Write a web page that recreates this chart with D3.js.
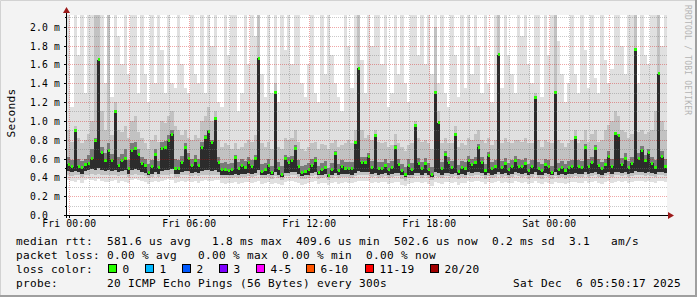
<!DOCTYPE html>
<html>
<head>
<meta charset="utf-8">
<style>
  html, body { margin: 0; padding: 0; background: #f3f3f3; }
  svg { display: block; }
  text { font-family: "DejaVu Sans Mono", monospace; fill: #000; }
  .legend { font-size: 11.1px; letter-spacing: 0.32px; white-space: pre; }
  .axis-text { font-size: 9.72px; letter-spacing: 0.15px; }
</style>
<script src="https://cdn.jsdelivr.net/npm/d3@7/dist/d3.min.js"></script>
</head>
<body>
<svg width="697" height="297"></svg>
<script>
const svg = d3.select('svg');
const width = +svg.attr('width');
const height = +svg.attr('height');

// one column every 10 minutes, first one starts Thu 23:55 (UTC)
const startTime = Date.UTC(2025, 11, 4, 23, 55);
const stepMinutes = 10;

// all values in microseconds
const medianUs = [
  540,510,900,520,500,540,550,600,790,1650,
  660,580,690,580,1100,530,575,600,490,690,
  710,640,550,525,450,510,640,500,710,720,
  790,860,490,490,560,720,600,525,575,525,
  720,820,890,770,1030,560,480,480,470,480,
  610,490,525,505,560,520,600,1665,460,480,
  530,455,1300,490,430,600,560,580,710,520,
  450,460,480,530,575,455,480,500,420,480,
  650,470,520,490,490,490,770,1560,560,560,
  620,500,840,490,490,530,480,500,720,540,
  470,430,525,480,950,550,490,550,480,430,
  1300,980,490,640,560,500,850,460,500,490,
  575,540,560,720,560,470,630,490,510,1700,
  500,550,480,510,575,520,510,550,470,510,
  1250,490,470,540,510,455,1300,480,500,470,
  500,510,820,510,500,720,520,555,710,530,
  490,540,620,520,870,840,540,600,500,550,
  1760,600,690,580,660,550,500,1500,620,520
];

// outer smoke: min and max ping of each column
const lowUs = [
  370,360,350,370,340,370,380,370,360,380,
  360,350,350,360,370,340,360,350,340,370,
  380,370,360,350,330,350,360,350,360,370,
  380,370,340,350,360,350,360,350,360,340,
  360,370,360,360,370,370,340,330,340,340,
  350,330,340,350,350,340,350,360,330,340,
  350,330,340,330,320,350,360,360,350,340,
  320,330,340,350,360,330,340,340,320,340,
  350,330,340,350,340,340,350,360,360,360,
  360,340,350,340,350,350,330,340,350,350,
  320,310,330,340,350,350,340,350,330,310,
  350,340,330,350,350,340,350,320,340,340,
  360,350,360,360,350,330,350,340,350,360,
  340,350,340,340,360,350,340,350,330,340,
  360,340,330,350,340,330,350,340,340,330,
  340,350,350,340,340,360,340,350,360,340,
  330,350,360,340,350,360,350,360,340,350,
  360,360,360,350,360,350,340,360,360,350
];
const highUs = [
  2200,1150,2200,1700,2200,1300,2200,2200,1800,2200,
  2200,1400,2200,1250,2200,1900,1600,2200,1500,2200,
  2200,1300,2200,1500,1200,2200,1400,2200,1750,1300,
  2200,1400,1350,2200,1600,1350,1300,2200,1500,1400,
  2200,1300,2200,1800,2200,1200,1150,2200,1700,2200,
  2200,1100,1300,2200,1600,2200,1900,2200,1500,1250,
  2200,1300,2200,1200,2200,1750,2200,1600,2200,2200,
  1400,1250,1600,2200,1300,1200,2200,1500,2200,1700,
  1400,1250,1100,2200,1800,1350,2200,2200,1650,1300,
  2200,1800,2200,2200,1600,2200,1150,1300,2200,1500,
  2200,1400,1200,2200,2200,1700,2200,1600,2200,1500,
  2200,1400,2200,1300,1150,2200,1700,1250,2200,1350,
  2200,1500,2200,1800,1300,2200,1400,1200,2200,2200,
  1350,2200,1700,1500,1300,2200,1900,2200,1600,1400,
  2200,2200,1250,2200,1700,2200,2200,1850,1500,1200,
  1400,2200,1500,1300,2200,1750,1350,2200,1450,1300,
  2200,1650,1400,1550,2200,2200,1800,1500,2200,2200,
  2200,1400,2200,1700,1600,2200,2200,2200,1800,2200
];

// middle smoke
const lowMidUs = [
  420,410,420,420,400,420,430,440,430,440,
  430,420,420,420,430,410,420,420,400,430,
  440,430,420,410,390,400,420,400,420,430,
  430,440,400,400,420,420,420,410,420,410,
  420,430,430,420,430,420,390,390,390,390,
  400,390,400,400,410,400,410,420,390,390,
  400,380,410,390,370,410,410,420,420,400,
  380,380,390,410,420,380,390,400,370,390,
  410,390,400,400,400,390,410,420,420,420,
  420,400,410,390,400,410,390,400,410,410,
  380,360,390,390,410,410,390,410,390,370,
  410,400,390,410,410,400,410,380,400,390,
  420,410,420,420,410,380,410,390,400,420,
  400,410,390,400,420,410,400,410,380,400,
  420,390,380,410,400,380,410,390,400,380,
  400,400,410,400,400,420,400,410,420,400,
  390,410,420,400,420,420,410,420,400,410,
  420,420,420,410,420,410,400,420,420,410
];
const highMidUs = [
  900,780,950,820,760,800,860,1000,2200,2200,
  1100,900,2200,850,1200,900,880,950,820,1000,
  1050,880,820,760,700,800,850,780,1000,980,
  1050,1100,950,900,850,900,820,800,850,820,
  1000,1050,1150,1000,1100,800,720,760,740,700,
  760,700,720,760,800,780,850,2200,760,720,
  780,700,1400,720,700,820,800,820,900,780,
  700,680,720,760,780,700,750,740,700,760,
  800,720,740,760,800,760,900,2200,900,820,
  850,800,900,780,760,780,720,740,860,760,
  720,680,740,760,1000,820,780,800,760,700,
  2000,1100,760,820,760,760,950,720,760,740,
  820,800,860,900,800,760,820,740,800,2200,
  760,820,780,760,800,800,780,820,760,760,
  1300,800,720,800,780,760,2200,800,760,720,
  760,800,900,760,800,900,780,860,900,780,
  800,900,960,1000,1100,1050,900,880,820,860,
  2200,880,900,860,880,900,1100,2200,1000,900
];

// inner smoke around the median
const lowInUs = [
  470,460,470,460,440,470,480,490,480,500,
  480,470,480,470,480,460,470,480,440,480,
  490,480,460,450,420,440,460,440,470,480,
  480,490,440,440,460,470,470,450,460,450,
  470,480,480,470,480,460,430,430,420,430,
  440,430,440,440,450,440,450,480,420,430,
  440,420,460,430,400,450,450,460,460,440,
  410,420,430,450,460,420,430,440,400,430,
  450,430,440,440,440,430,450,470,460,460,
  460,440,450,430,440,450,430,440,450,450,
  420,400,430,430,450,450,430,450,430,400,
  460,450,430,450,450,440,450,420,440,430,
  460,450,460,460,450,420,450,430,440,460,
  440,450,430,440,460,450,440,450,420,440,
  460,430,420,450,440,420,460,430,440,420,
  440,440,450,440,440,460,440,450,460,440,
  430,450,460,440,460,460,450,460,440,450,
  470,460,460,450,460,450,440,460,460,450
];
const highInUs = [
  620,580,900,600,570,600,640,700,820,1650,
  720,660,760,650,1100,620,650,700,580,760,
  780,700,620,590,540,580,700,570,780,790,
  850,900,600,580,630,760,660,600,640,600,
  780,850,900,800,1030,620,550,560,540,550,
  640,560,590,570,620,580,640,1665,540,550,
  590,520,1300,560,520,640,620,630,740,580,
  520,530,550,590,620,520,550,570,500,550,
  680,540,580,560,560,560,790,1560,620,620,
  660,570,840,560,560,590,550,570,740,600,
  540,510,590,550,950,610,560,610,550,510,
  1300,980,560,680,620,570,850,530,570,560,
  630,600,620,750,620,540,670,560,580,1700,
  570,610,550,580,630,590,580,610,540,580,
  1250,560,540,600,580,520,1300,550,570,540,
  570,580,830,580,570,750,590,620,740,600,
  560,600,680,600,880,860,610,660,570,620,
  1760,660,730,640,700,620,580,1500,680,600
];

const yTopUs = 2124;
const lossLabels = ['0', '1', '2', '3', '4-5', '6-10', '11-19', '20/20'];
const lossColors = ['#26ff00', '#00b8ff', '#0059ff', '#7e00ff', '#ff00ff', '#ff5500', '#ff0000', '#a10000'];

const legendLines = [
  'median rtt:  581.6 us avg   1.8 ms max  409.6 us min  502.6 us now  0.2 ms sd  3.1   am/s',
  'packet loss: 0.00 % avg   0.00 % max  0.00 % min  0.00 % now',
  'loss color:',
  'probe:       20 ICMP Echo Pings (56 Bytes) every 300s'
];
const dateText = 'Sat Dec  6 05:50:17 2025';
const watermark = 'RRDTOOL / TOBI OETIKER';

// ---------------------------------------------------------------

const plot = { left: 67, right: 667, top: 15, bottom: 215 };
const stepMs = stepMinutes * 60000;

const steps = medianUs.map((m, i) => ({
  t0: new Date(startTime + i * stepMs),
  t1: new Date(startTime + (i + 1) * stepMs),
  med: m,
  bands: [
    [lowUs[i], highUs[i]],
    [lowMidUs[i], highMidUs[i]],
    [lowInUs[i], highInUs[i]],
    [lowInUs[i], m]
  ]
}));

const xScale = d3.scaleUtc()
  .domain([new Date(startTime), new Date(startTime + medianUs.length * stepMs)])
  .range([plot.left, plot.right]);

const yScale = d3.scaleLinear()
  .domain([0, yTopUs])
  .range([plot.bottom, plot.top])
  .clamp(true);

// frame
svg.append('rect').attr('width', width).attr('height', height).attr('fill', '#f3f3f3');
svg.append('path').attr('d', `M0.5,${height} V0.5 H${width}`).attr('stroke', '#d2d2d2').attr('fill', 'none');
svg.append('rect').attr('x', width - 2).attr('y', 0).attr('width', 2).attr('height', height).attr('fill', '#9f9f9f');
svg.append('rect').attr('x', 0).attr('y', height - 2).attr('width', width).attr('height', 2).attr('fill', '#9f9f9f');

svg.append('rect')
  .attr('x', plot.left).attr('y', plot.top)
  .attr('width', plot.right - plot.left).attr('height', plot.bottom - plot.top)
  .attr('fill', '#fff');

// smoke: outer, middle, inner, and the darkest part from the inner low up to the median
const smokeColors = ['#e0e0e0', '#c2c2c2', '#7a7a7a', '#2c2c2c'];
const g = svg.append('g').attr('shape-rendering', 'crispEdges');
smokeColors.forEach((color, b) => {
  g.append('g').selectAll('rect')
    .data(steps)
    .join('rect')
    .attr('x', d => xScale(d.t0))
    .attr('width', d => xScale(d.t1) - xScale(d.t0))
    .attr('y', d => yScale(d.bands[b][1]))
    .attr('height', d => Math.max(0, yScale(d.bands[b][0]) - yScale(d.bands[b][1])))
    .attr('fill', color);
});

// median, coloured by loss (all 0 here)
g.append('g').selectAll('rect')
  .data(steps)
  .join('rect')
  .attr('x', d => xScale(d.t0) + 0.5)
  .attr('width', d => xScale(d.t1) - xScale(d.t0) - 1)
  .attr('y', d => yScale(d.med) - 1.5)
  .attr('height', 3)
  .attr('fill', lossColors[0]);

// grid on top
const grid = svg.append('g').attr('shape-rendering', 'crispEdges').attr('stroke-dasharray', '1,1');
const yMinor = d3.range(100, yTopUs, 100).filter(v => v % 200 !== 0);
const yMajor = d3.range(200, yTopUs, 200);
const hours = xScale.ticks(d3.utcHour.every(1));
const px = v => Math.round(v) + 0.5;

grid.selectAll('.hminor').data(yMinor).join('line')
  .attr('x1', plot.left + 1).attr('x2', plot.right)
  .attr('y1', d => px(yScale(d))).attr('y2', d => px(yScale(d)))
  .attr('stroke', 'rgba(120,120,120,0.4)');
grid.selectAll('.vminor').data(hours.filter(d => d.getUTCHours() % 3 !== 0)).join('line')
  .attr('x1', d => px(xScale(d))).attr('x2', d => px(xScale(d)))
  .attr('y1', plot.top).attr('y2', plot.bottom)
  .attr('stroke', 'rgba(120,120,120,0.4)');
grid.selectAll('.hmajor').data(yMajor).join('line')
  .attr('x1', plot.left + 1).attr('x2', plot.right)
  .attr('y1', d => px(yScale(d))).attr('y2', d => px(yScale(d)))
  .attr('stroke', 'rgba(210,0,0,0.35)');
grid.selectAll('.vmajor').data(hours.filter(d => d.getUTCHours() % 3 === 0)).join('line')
  .attr('x1', d => px(xScale(d))).attr('x2', d => px(xScale(d)))
  .attr('y1', plot.top).attr('y2', plot.bottom)
  .attr('stroke', 'rgba(210,0,0,0.35)');

// axes
const yAxis = d3.axisLeft(yScale)
  .tickValues([0].concat(yMajor))
  .tickSize(3)
  .tickFormat(v => v === 0 ? '0.0' : d3.format('.1f')(v / 1000) + ' m');
const yAxisG = svg.append('g')
  .attr('transform', `translate(${plot.left},0)`)
  .call(yAxis);
yAxisG.select('.domain').remove();
yAxisG.attr('font-family', null).attr('font-size', null);
yAxisG.selectAll('line').attr('shape-rendering', 'crispEdges');
yAxisG.selectAll('text')
  .attr('class', 'axis-text')
  .attr('x', 30 - plot.left)
  .attr('dy', '0.37em')
  .attr('text-anchor', 'start');

const yMinorAxis = d3.axisLeft(yScale).tickValues(yMinor).tickSize(2).tickFormat('');
svg.append('g').attr('transform', `translate(${plot.left},0)`).call(yMinorAxis)
  .call(a => a.select('.domain').remove())
  .selectAll('line').attr('shape-rendering', 'crispEdges');

const xAxis = d3.axisBottom(xScale)
  .ticks(d3.utcHour.every(3))
  .tickSize(3)
  .tickFormat(d => d.getUTCHours() % 6 === 0 ? d3.utcFormat('%a %H:%M')(d) : '');
const xAxisG = svg.append('g')
  .attr('transform', `translate(0,${plot.bottom})`)
  .call(xAxis);
xAxisG.select('.domain').remove();
xAxisG.attr('font-family', null).attr('font-size', null);
xAxisG.selectAll('line').attr('shape-rendering', 'crispEdges');
xAxisG.selectAll('text')
  .attr('class', 'axis-text')
  .attr('y', 12.3)
  .attr('dy', null);

const xMinorAxis = d3.axisBottom(xScale).ticks(d3.utcHour.every(1)).tickSize(2).tickFormat('');
svg.append('g').attr('transform', `translate(0,${plot.bottom})`).call(xMinorAxis)
  .call(a => a.select('.domain').remove())
  .selectAll('line').attr('shape-rendering', 'crispEdges');

// axis lines with arrows
svg.append('line').attr('x1', plot.left - 3).attr('x2', plot.right + 2)
  .attr('y1', plot.bottom + 0.5).attr('y2', plot.bottom + 0.5)
  .attr('stroke', '#000').attr('shape-rendering', 'crispEdges');
svg.append('line').attr('x1', plot.left - 0.5).attr('x2', plot.left - 0.5)
  .attr('y1', plot.bottom + 3).attr('y2', plot.top - 3)
  .attr('stroke', '#000').attr('shape-rendering', 'crispEdges');
svg.append('path')
  .attr('d', `M${plot.right + 1},${plot.bottom - 3} L${plot.right + 7},${plot.bottom + 0.5} L${plot.right + 1},${plot.bottom + 4} Z`)
  .attr('fill', '#9c1a1a');
svg.append('path')
  .attr('d', `M${plot.left - 4},${plot.top - 2} L${plot.left - 0.5},${plot.top - 8} L${plot.left + 3},${plot.top - 2} Z`)
  .attr('fill', '#9c1a1a');

// axis title
svg.append('text')
  .attr('class', 'legend')
  .attr('transform', 'translate(15,113) rotate(-90)')
  .attr('text-anchor', 'middle')
  .text('Seconds');

// watermark
svg.append('text')
  .attr('transform', 'translate(685,5) rotate(90)')
  .attr('font-size', '8px')
  .attr('letter-spacing', '0.2px')
  .style('fill', '#b4b4b4')
  .text(watermark);

// legend
const legendTop = 245;
const lineStep = 14;
legendLines.forEach((line, i) => {
  svg.append('text')
    .attr('class', 'legend')
    .attr('xml:space', 'preserve')
    .attr('x', 16)
    .attr('y', legendTop + i * lineStep)
    .text(line);
});

const lossX = [108.5, 145.5, 182.5, 219.5, 256.5, 306.5, 365.5, 430.5];
const lossG = svg.append('g');
lossLabels.forEach((label, i) => {
  lossG.append('rect')
    .attr('x', lossX[i]).attr('y', legendTop + 2 * lineStep - 8.5)
    .attr('width', 8).attr('height', 8)
    .attr('fill', lossColors[i])
    .attr('stroke', '#000').attr('stroke-width', 1);
  lossG.append('text')
    .attr('class', 'legend')
    .attr('x', lossX[i] + 14)
    .attr('y', legendTop + 2 * lineStep)
    .text(label);
});

svg.append('text')
  .attr('class', 'legend')
  .attr('x', 681)
  .attr('y', legendTop + 3 * lineStep)
  .attr('text-anchor', 'end')
  .text(dateText);
</script>
</body>
</html>
